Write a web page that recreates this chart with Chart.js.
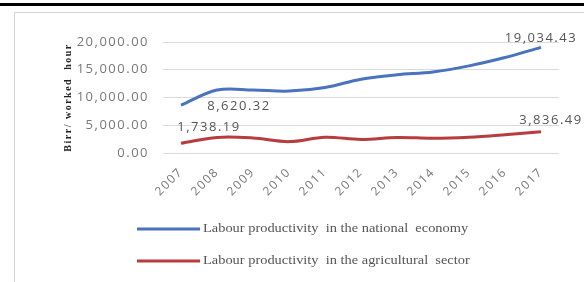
<!DOCTYPE html>
<html>
<head>
<meta charset="utf-8">
<script src="https://cdn.jsdelivr.net/npm/chart.js@4.4.0/dist/chart.umd.min.js"></script>
<style>
  html, body { margin: 0; padding: 0; background: #fff; }
  #wrap { position: relative; width: 584px; height: 282px; overflow: hidden; }
  #topbar { position: absolute; left: 0; top: 3px; width: 584px; height: 3px; background: #000; }
  #frame { position: absolute; left: 14px; top: 12px; width: 600px; height: 300px; border-left: 1px solid #d4d4d4; border-top: 1px solid #d4d4d4; }
  canvas { position: absolute; left: 0; top: 0; }
</style>
</head>
<body>
<div id="wrap">
  <div id="topbar"></div>
  <div id="frame"></div>
  <canvas id="myChart" width="584" height="282"></canvas>
</div>
<script>
const years = ["2007","2008","2009","2010","2011","2012","2013","2014","2015","2016","2017"]
const nationalEconomy = [8620.32, 11350, 11350, 11150, 11800, 13300, 14100, 14600, 15700, 17200, 19034.43]
const agriculturalSector = [1738.19, 2800, 2700, 2050, 2850, 2450, 2800, 2650, 2850, 3300, 3836.49]
const seriesNames = [
    "Labour productivity  in the national  economy",
    "Labour productivity  in the agricultural  sector"
]
const yTicks = [0, 5000, 10000, 15000, 20000]
const yTitle = "Birr/ worked  hour"

const fmt = v => v.toLocaleString("en-US", {minimumFractionDigits: 2, maximumFractionDigits: 2})

// which points get a value label, and where it sits relative to the point
const pointLabels = [
    {ds: 0, i: 0, dx: 58, dy: 1},
    {ds: 1, i: 0, dx: 28, dy: -16},
    {ds: 0, i: 10, dx: 0, dy: -9},
    {ds: 1, i: 10, dx: 10, dy: -11}
]

// the reference text is drawn a bit wide, spread the letters
const wideText = {
    id: "wideText",
    beforeDraw(chart){ chart.ctx.letterSpacing = "1.5px" },
    afterDraw(chart){ chart.ctx.letterSpacing = "0px" }
}

const valueLabels = {
    id: "valueLabels",
    afterDatasetsDraw(chart){
        const ctx = chart.ctx
        ctx.save()
        ctx.font = "13px 'Open Sans'"
        ctx.fillStyle = "#555"
        ctx.textAlign = "center"
        ctx.textBaseline = "middle"
        pointLabels.forEach(p => {
            const pt = chart.getDatasetMeta(p.ds).data[p.i]
            const v = chart.data.datasets[p.ds].data[p.i]
            ctx.fillText(fmt(v), pt.x + p.dx, pt.y + p.dy)
        })
        ctx.restore()
    }
}

const sideLegend = {
    id: "sideLegend",
    afterDraw(chart){
        const ctx = chart.ctx
        ctx.save()
        ctx.letterSpacing = "0px"
        chart.data.datasets.forEach((ds, k) => {
            const y = 229 + k * 32
            ctx.strokeStyle = ds.borderColor
            ctx.lineWidth = 3
            ctx.beginPath()
            ctx.moveTo(137, y)
            ctx.lineTo(200, y)
            ctx.stroke()
            ctx.fillStyle = "#555"
            ctx.font = "12px 'Liberation Serif'"
            ctx.textBaseline = "middle"
            ctx.save()
            ctx.translate(203, y)
            ctx.scale(1.2, 1)
            ctx.fillText(ds.label, 0, 0)
            ctx.restore()
        })
        ctx.restore()
    }
}

const ctx = document.getElementById("myChart")

new Chart(ctx, {
    type: "line",
    data: {
        labels: years,
        datasets: [{
            label: seriesNames[0],
            data: nationalEconomy,
            borderColor: "#4a72bf",
            backgroundColor: "#4a72bf",
            borderWidth: 3,
            pointRadius: 0,
            tension: 0.35
        }, {
            label: seriesNames[1],
            data: agriculturalSector,
            borderColor: "#b83c3e",
            backgroundColor: "#b83c3e",
            borderWidth: 3,
            pointRadius: 0,
            tension: 0.35
        }]
    },
    options: {
        responsive: false,
        animation: false,
        layout: { padding: {left: 48, right: 25, top: 42, bottom: 0} },
        plugins: {
            legend: { display: false },
            tooltip: { enabled: false }
        },
        scales: {
            x: {
                offset: true,
                grid: { display: false },
                border: { display: false },
                ticks: {
                    color: "#777",
                    font: { family: "'Open Sans'", size: 12 },
                    maxRotation: 45,
                    minRotation: 45,
                    padding: 4
                },
                afterFit: axis => { axis.height = 129 }
            },
            y: {
                min: 0,
                max: 20000,
                afterBuildTicks: axis => { axis.ticks = yTicks.map(v => ({value: v})) },
                grid: { color: "#dadada", drawTicks: false },
                border: { display: false },
                ticks: {
                    color: "#777",
                    font: { family: "'Open Sans'", size: 13 },
                    padding: 14,
                    callback: v => fmt(v)
                },
                title: {
                    display: true,
                    text: yTitle,
                    color: "#222",
                    font: { family: "'Liberation Serif'", size: 10, weight: "bold" },
                    padding: { top: 14, bottom: 0 }
                },
                afterFit: axis => { axis.width = 115 }
            }
        }
    },
    plugins: [wideText, valueLabels, sideLegend]
})
</script>
</body>
</html>
